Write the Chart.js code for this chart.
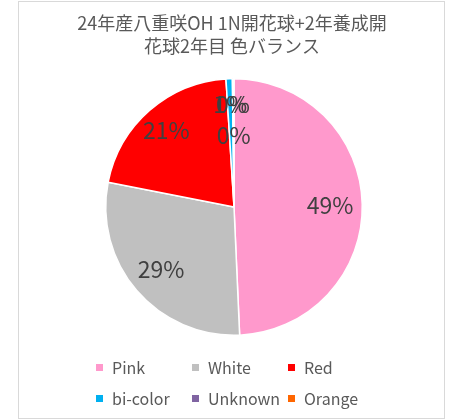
<!DOCTYPE html>
<html>
<head>
<meta charset="utf-8">
<script src="https://cdn.jsdelivr.net/npm/chart.js@4"></script>
<style>
  html, body { margin: 0; padding: 0; background: #fff; }
  #wrap { width: 463px; height: 420px; position: relative; }
</style>
</head>
<body>
<div id="wrap"><canvas id="pieChart" width="463" height="420"></canvas></div>
<script>
// 色バランス pie, values

const titleLines = ["24年産八重咲OH 1N開花球+2年養成開", "花球2年目 色バランス"];
const categories = ["Pink", "White", "Red", "bi-color", "Unknown", "Orange"];
const shares = [49.3, 28.8, 20.9, 0.8, 0.1, 0.1];
const sliceColors = ["#FF99CC", "#C0C0C0", "#FF0000", "#00B0F0", "#8064A2", "#FF6600"];

const FONT = "'Noto Sans CJK JP', 'Noto Sans', sans-serif";
const TEXT_GREY = "#595959";

const total = shares.reduce((a, b) => a + b, 0);

// frame, title, percent labels and grid legend, drawn like Excel does it
const excelLook = {
    id: "excelLook",
    beforeDraw(chart) {
        const ctx = chart.ctx;
        ctx.save();
        ctx.fillStyle = "#fff";
        ctx.fillRect(0, 0, chart.width, chart.height);
        ctx.strokeStyle = "#d9d9d9";
        ctx.lineWidth = 1;
        ctx.strokeRect(18.5, 1.5, 426, 417);
        ctx.restore();
    },
    afterDraw(chart) {
        const ctx = chart.ctx;
        ctx.save();

        // title
        ctx.fillStyle = TEXT_GREY;
        ctx.font = "18px " + FONT;
        ctx.textAlign = "center";
        ctx.textBaseline = "middle";
        titleLines.forEach((t, i) => ctx.fillText(t, 232, 23 + i * 23));

        // percent labels
        const arcs = chart.getDatasetMeta(0).data;
        ctx.fillStyle = "#404040";
        ctx.font = "23px " + FONT;
        arcs.forEach((arc, i) => {
            const mid = (arc.startAngle + arc.endAngle) / 2;
            const frac = i === arcs.length - 1 ? 0.56 : (i >= 2 ? 0.8 : 0.75);
            const r = arc.outerRadius * frac;
            const x = arc.x + Math.cos(mid) * r;
            const y = arc.y + Math.sin(mid) * r;
            ctx.fillText(Math.round(shares[i] / total * 100) + "%", x, y);
        });

        // legend, 3 columns x 2 rows
        ctx.font = "16px " + FONT;
        ctx.textAlign = "left";
        categories.forEach((name, i) => {
            const col = i % 3, row = Math.floor(i / 3);
            const bx = 96 + col * 96;
            const by = 367 + row * 31;
            ctx.fillStyle = sliceColors[i];
            ctx.fillRect(bx, by - 3, 7, 7);
            ctx.fillStyle = TEXT_GREY;
            ctx.fillText(name, bx + 16, by + 1);
        });
        ctx.restore();
    }
};

new Chart(document.getElementById("pieChart"), {
    type: "pie",
    data: {
        labels: categories,
        datasets: [{
            data: shares,
            backgroundColor: sliceColors,
            borderColor: "#fff",
            borderWidth: 1.5
        }]
    },
    options: {
        responsive: false,
        animation: false,
        layout: { padding: { top: 78, bottom: 84, left: 105, right: 100 } },
        plugins: {
            legend: { display: false },
            title: { display: false },
            tooltip: { enabled: false }
        }
    },
    plugins: [excelLook]
});
</script>
</body>
</html>
